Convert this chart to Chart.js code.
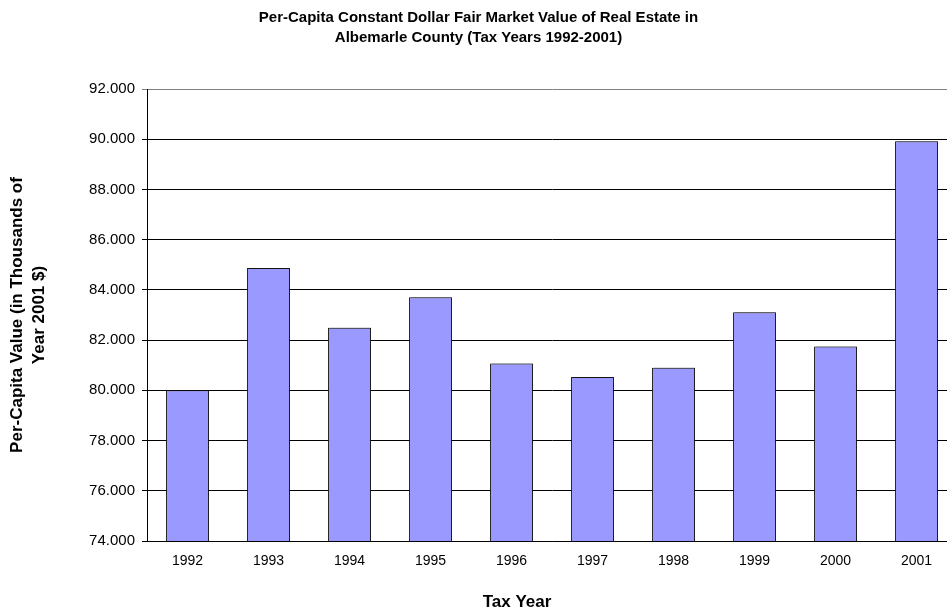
<!DOCTYPE html>
<html>
<head>
<meta charset="utf-8">
<script src="https://cdn.jsdelivr.net/npm/chart.js@4.4.0/dist/chart.umd.min.js"></script>
<style>
  html, body { margin: 0; padding: 0; overflow: hidden; background: #fff; }
  #wrap { position: relative; width: 957px; height: 610px; }
</style>
</head>
<body>
<div id="wrap"><canvas id="c"></canvas></div>
<script>
const categories = ['1992','1993','1994','1995','1996','1997','1998','1999','2000','2001'];
const perCapitaValue = [80.00, 84.87, 82.49, 83.71, 81.07, 80.53, 80.90, 83.11, 81.75, 89.92];
const yMin = 74, yMax = 92, yStep = 2;
const titleLines = ['Per-Capita Constant Dollar Fair Market Value of Real Estate in', 'Albemarle County (Tax Years 1992-2001)'];
const yTitleLines = ['Per-Capita Value (in Thousands of', 'Year 2001 $)'];
const xTitle = 'Tax Year';

const FONT = "'Liberation Sans', Arial, sans-serif";

const xTitlePlugin = {
  id: 'xTitlePlugin',
  afterDraw(chart) {
    const ctx = chart.ctx;
    ctx.save();
    ctx.font = 'bold 17px ' + FONT;
    ctx.fillStyle = '#000';
    ctx.textAlign = 'center';
    ctx.textBaseline = 'middle';
    ctx.fillText(xTitle, 517, 602);
    ctx.restore();
  }
};

const shadowPlugin = {
  id: 'shadowPlugin',
  beforeDatasetsDraw(chart) {
    const ctx = chart.ctx;
    ctx.save();
    ctx.shadowColor = 'rgba(0,0,0,0.3)';
    ctx.shadowOffsetX = 1.5;
    ctx.shadowOffsetY = -1;
    ctx.shadowBlur = 0;
  },
  afterDatasetsDraw(chart) {
    chart.ctx.restore();
  }
};

new Chart(document.getElementById('c'), {
  type: 'bar',
  data: {
    labels: categories,
    datasets: [{
      data: perCapitaValue,
      backgroundColor: '#9999FF',
      borderColor: '#1a1a1a',
      borderWidth: 1,
      borderSkipped: 'bottom',
      barPercentage: 0.53,
      categoryPercentage: 1.0
    }]
  },
  options: {
    responsive: true,
    maintainAspectRatio: false,
    animation: false,
    devicePixelRatio: 1,
    layout: { padding: { left: 0, right: 0, top: 0, bottom: 0 } },
    plugins: {
      legend: { display: false },
      tooltip: { enabled: false },
      title: {
        display: true,
        text: titleLines,
        color: '#000',
        font: { family: FONT, size: 15, weight: 'bold', lineHeight: 20 / 15 },
        padding: { top: 8, bottom: 41 }
      }
    },
    scales: {
      x: {
        grid: { display: false, drawTicks: false },
        border: { display: true, color: '#000', width: 1 },
        ticks: {
          color: '#000',
          font: { family: FONT, size: 14 },
          padding: 12,
          maxRotation: 0
        },
        afterFit(scale) { scale.height = 69; }
      },
      y: {
        min: yMin,
        max: yMax,
        grid: {
          color: (c) => (c.tick && c.tick.value === yMax) ? '#808080' : '#000',
          lineWidth: 1,
          tickLength: 5,
          drawTicks: true
        },
        border: { display: true, color: '#000', width: 1 },
        ticks: {
          stepSize: yStep,
          color: '#000',
          font: { family: FONT, size: 15 },
          padding: 7,
          callback: (v) => Number(v).toFixed(3)
        },
        title: {
          display: true,
          text: yTitleLines,
          color: '#000',
          font: { family: FONT, size: 17, weight: 'bold', lineHeight: 22 / 17 },
          padding: { top: 6, bottom: 0 }
        },
        afterFit(scale) { scale.width = 147; }
      }
    }
  },
  plugins: [shadowPlugin, xTitlePlugin]
});
</script>
</body>
</html>
